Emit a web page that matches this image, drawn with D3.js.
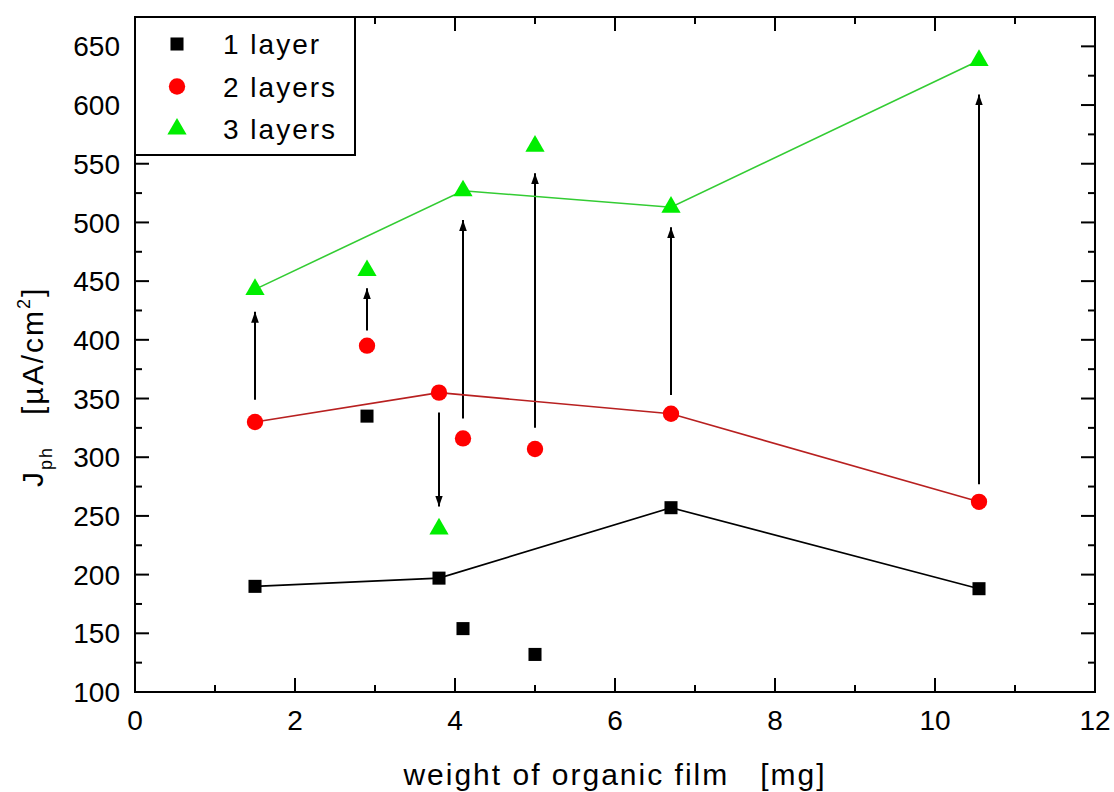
<!DOCTYPE html>
<html>
<head>
<meta charset="utf-8">
<script src="https://cdn.jsdelivr.net/npm/d3@7"></script>
<style>
  body { margin: 0; background: #fff; }
  text { font-family: Arial, "Liberation Sans", sans-serif; fill: #000; }
</style>
</head>
<body>
<svg></svg>
<script>
// data
const weights = [1.5, 2.9, 3.8, 4.1, 5.0, 6.7, 10.55];
const oneLayer = [190, 335, 197, 154, 132, 257, 188];
const twoLayers = [330, 395, 355, 316, 307, 337, 262];
const threeLayers = [443, 459, 239, 527, 565, 513, 638];

// which points are joined by the lines
const oneLayerLine = [0, 2, 5, 6];
const twoLayersLine = [0, 2, 5, 6];
const threeLayersLine = [0, 3, 5, 6];

// vertical arrows (start -> end)
const arrowX = [1.5, 2.9, 3.8, 4.1, 5.0, 6.7, 10.55];
const arrowFrom = [349, 408, 338, 333, 325, 353, 277];
const arrowTo = [424, 444, 258, 502, 542, 496, 609];

const xMajor = [0, 2, 4, 6, 8, 10, 12];
const xMinor = [1, 3, 5, 7, 9, 11];
const yMajor = [100, 150, 200, 250, 300, 350, 400, 450, 500, 550, 600, 650];
const yMinor = [125, 175, 225, 275, 325, 375, 425, 475, 525, 575, 625];

const legendLabels = ['1 layer', '2 layers', '3 layers'];

const width = 1114;
const height = 792;
const plotL = 135, plotR = 1095, plotT = 17, plotB = 692;

const svg = d3.select('svg')
    .attr('width', width)
    .attr('height', height);

const x = d3.scaleLinear().domain([0, 12]).range([plotL, plotR]);
const y = d3.scaleLinear().domain([100, 675]).range([plotB, plotT]);

// ticks, all pointing inward
const ticks = svg.append('g').attr('stroke', '#000').attr('stroke-width', 2);
function tickX(vals, len) {
    vals.forEach(v => {
        ticks.append('line').attr('x1', x(v)).attr('x2', x(v)).attr('y1', plotB).attr('y2', plotB - len);
        ticks.append('line').attr('x1', x(v)).attr('x2', x(v)).attr('y1', plotT).attr('y2', plotT + len);
    });
}
function tickY(vals, len) {
    vals.forEach(v => {
        ticks.append('line').attr('x1', plotL).attr('x2', plotL + len).attr('y1', y(v)).attr('y2', y(v));
        ticks.append('line').attr('x1', plotR).attr('x2', plotR - len).attr('y1', y(v)).attr('y2', y(v));
    });
}
tickX(xMajor.slice(1, -1), 14);
tickX(xMinor, 7);
tickY(yMajor.slice(1), 14);
tickY(yMinor, 7);

svg.append('rect')
    .attr('x', plotL).attr('y', plotT)
    .attr('width', plotR - plotL).attr('height', plotB - plotT)
    .attr('fill', 'none').attr('stroke', '#000').attr('stroke-width', 2);

svg.append('g').selectAll('text')
    .data(xMajor)
    .enter().append('text')
    .attr('x', d => x(d))
    .attr('y', 730)
    .attr('text-anchor', 'middle')
    .attr('font-size', 28)
    .text(d => d);

svg.append('g').selectAll('text')
    .data(yMajor)
    .enter().append('text')
    .attr('x', 120)
    .attr('y', d => y(d))
    .attr('dy', '0.36em')
    .attr('text-anchor', 'end')
    .attr('font-size', 28)
    .text(d => d);

// axis titles
svg.append('text')
    .attr('x', (plotL + plotR) / 2)
    .attr('y', 785)
    .attr('text-anchor', 'middle')
    .attr('font-size', 30)
    .attr('letter-spacing', 2)
    .attr('xml:space', 'preserve')
    .text('weight of organic film   [mg]');

const yTitle = svg.append('text')
    .attr('transform', 'translate(43,487) rotate(-90)')
    .attr('text-anchor', 'start')
    .attr('font-size', 30)
    .attr('letter-spacing', 2)
    .attr('xml:space', 'preserve');
yTitle.append('tspan').text('J');
yTitle.append('tspan').attr('font-size', 18).attr('dy', 9).text('ph');
yTitle.append('tspan').attr('dy', -9).text('   [µA/cm');
yTitle.append('tspan').attr('font-size', 18).attr('dy', -13).text('2');
yTitle.append('tspan').attr('dy', 13).text(']');

// arrows
svg.append('defs').append('marker')
    .attr('id', 'head')
    .attr('viewBox', '0 0 10 10')
    .attr('refX', 10).attr('refY', 5)
    .attr('markerWidth', 11).attr('markerHeight', 11)
    .attr('markerUnits', 'userSpaceOnUse')
    .attr('orient', 'auto')
    .append('path')
    .attr('d', 'M0,1.5 L10,5 L0,8.5 Z')
    .attr('fill', '#000');

svg.append('g').selectAll('line')
    .data(arrowX)
    .enter().append('line')
    .attr('x1', d => x(d))
    .attr('x2', d => x(d))
    .attr('y1', (d, i) => y(arrowFrom[i]))
    .attr('y2', (d, i) => y(arrowTo[i]))
    .attr('stroke', '#000')
    .attr('stroke-width', 2)
    .attr('marker-end', 'url(#head)');

// lines
function drawLine(values, idx, color) {
    const line = d3.line()
        .x(i => x(weights[i]))
        .y(i => y(values[i]));
    svg.append('path')
        .attr('d', line(idx))
        .attr('fill', 'none')
        .attr('stroke', color)
        .attr('stroke-width', 1.6);
}
drawLine(oneLayer, oneLayerLine, '#000');
drawLine(twoLayers, twoLayersLine, '#b82020');
drawLine(threeLayers, threeLayersLine, '#33cc33');

// markers
const squares = d3.symbol().type(d3.symbolSquare).size(170);
const circles = d3.symbol().type(d3.symbolCircle).size(210);
const triangles = d3.symbol().type(d3.symbolTriangle).size(160);

function drawPoints(values, sym, color) {
    svg.append('g').selectAll('path')
        .data(values)
        .enter().append('path')
        .attr('transform', (d, i) => `translate(${x(weights[i])},${y(d)})`)
        .attr('d', sym)
        .attr('fill', color);
}
drawPoints(oneLayer, squares, '#000');
drawPoints(twoLayers, circles, '#ff0000');
drawPoints(threeLayers, triangles, '#00ee00');

// legend
const legend = svg.append('g');
legend.append('rect')
    .attr('x', plotL).attr('y', plotT)
    .attr('width', 220).attr('height', 138)
    .attr('fill', '#fff').attr('stroke', '#000').attr('stroke-width', 2);
const legendSyms = [squares, circles, triangles];
const legendColors = ['#000', '#ff0000', '#00ee00'];
legendLabels.forEach((label, i) => {
    const ly = 44 + i * 42.5;
    legend.append('path')
        .attr('transform', `translate(177,${ly})`)
        .attr('d', legendSyms[i])
        .attr('fill', legendColors[i]);
    legend.append('text')
        .attr('x', 223)
        .attr('y', ly)
        .attr('dy', '0.36em')
        .attr('font-size', 28)
        .attr('letter-spacing', 2)
        .text(label);
});
</script>
</body>
</html>
